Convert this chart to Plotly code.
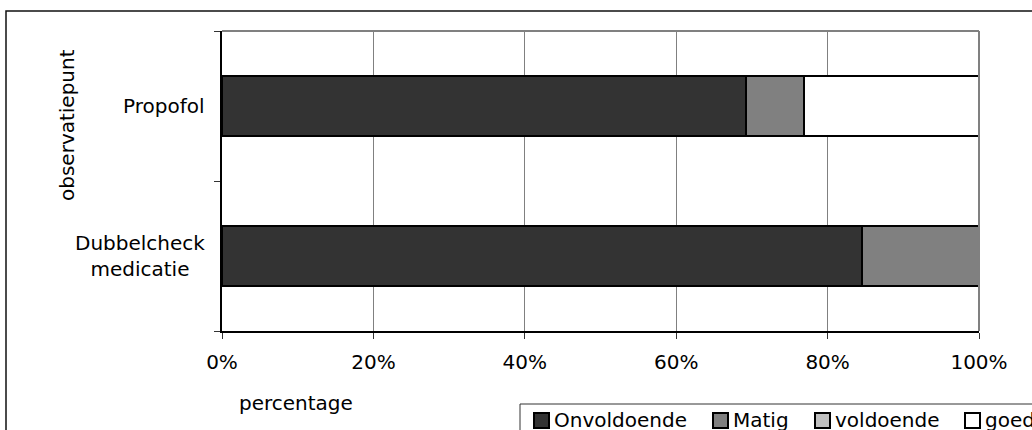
import plotly.graph_objects as go

categories = ["Dubbelcheck<br>medicatie", "Propofol"]
series_names = ["Onvoldoende", "Matig", "voldoende", "goed"]
onvoldoende = [84.6, 69.2]
matig = [15.4, 7.7]
voldoende = [0.0, 0.0]
goed = [0.0, 23.1]
series_values = [onvoldoende, matig, voldoende, goed]
colors = ["#333333", "#808080", "#C0C0C0", "#FFFFFF"]
x_ticks = [0, 20, 40, 60, 80, 100]
x_tick_labels = ["0%", "20%", "40%", "60%", "80%", "100%"]

FONT = "DejaVu Sans"
FS = 20

W, H = 1032, 430
L, R, T, B = 222, 979, 31, 331
PW, PH = R - L, B - T


def px(x):
    return (x - L) / PW


def py(y):
    return (B - y) / PH


fig = go.Figure()
for name, vals, col in zip(series_names, series_values, colors):
    fig.add_trace(go.Bar(
        y=list(range(len(categories))), x=vals, name=name, orientation="h",
        marker=dict(color=col, line=dict(color="#000000", width=2)),
        width=0.4, showlegend=False,
    ))

shapes = [
    dict(type="line", xref="paper", yref="paper", x0=0, x1=1, y0=1, y1=1,
         line=dict(color="#808080", width=2)),
    dict(type="line", xref="paper", yref="paper", x0=1, x1=1, y0=0, y1=1,
         line=dict(color="#808080", width=2)),
    dict(type="rect", xref="paper", yref="paper", x0=px(6), x1=px(1045),
         y0=py(11), y1=py(445), line=dict(color="#111111", width=1.5),
         fillcolor="rgba(0,0,0,0)", layer="below"),
    dict(type="rect", xref="paper", yref="paper", x0=px(520), x1=px(1045),
         y0=py(404), y1=py(445), line=dict(color="#333333", width=1),
         fillcolor="rgba(0,0,0,0)"),
]

annotations = []
for i, c in enumerate(categories):
    annotations.append(dict(
        text=c, xref="paper", yref="y", x=px(207), y=i, xanchor="right",
        yanchor="middle", align="center", showarrow=False,
        font=dict(family=FONT, size=FS, color="#000000")))
annotations.append(dict(
    text="observatiepunt", xref="paper", yref="paper", x=px(67), y=py(125),
    xanchor="center", yanchor="middle", textangle=-90, showarrow=False,
    font=dict(family=FONT, size=FS, color="#000000")))
annotations.append(dict(
    text="percentage", xref="paper", yref="paper", x=px(237), y=py(403),
    xanchor="left", yanchor="middle", showarrow=False,
    font=dict(family=FONT, size=FS, color="#000000")))

leg_sq_x = [534, 713, 815, 965]
for name, col, sx in zip(series_names, colors, leg_sq_x):
    shapes.append(dict(type="rect", xref="paper", yref="paper",
                       x0=px(sx), x1=px(sx + 15), y0=py(413), y1=py(428),
                       fillcolor=col, line=dict(color="#000000", width=2)))
    annotations.append(dict(
        text=name, xref="paper", yref="paper", x=px(sx + 18), y=py(420),
        xanchor="left", yanchor="middle", showarrow=False,
        font=dict(family=FONT, size=FS, color="#000000")))

fig.update_layout(
    width=W, height=H,
    margin=dict(l=L, r=W - R, t=T, b=H - B, pad=0),
    plot_bgcolor="#FFFFFF", paper_bgcolor="#FFFFFF",
    barmode="stack", bargap=0.6,
    font=dict(family=FONT, size=FS, color="#000000"),
    shapes=shapes, annotations=annotations,
    xaxis=dict(range=[0, 100], tickvals=x_ticks, ticktext=x_tick_labels,
               showgrid=True, gridcolor="#808080", gridwidth=1,
               showline=True, linecolor="#000000", linewidth=2,
               ticks="outside", ticklen=6, tickcolor="#333333", tickwidth=1,
               ticklabelstandoff=6, zeroline=False,
               tickfont=dict(family=FONT, size=FS, color="#000000")),
    yaxis=dict(type="linear", range=[-0.5, 1.5], tickvals=[-0.5, 0.5, 1.5],
               showticklabels=False, showgrid=False, zeroline=False,
               showline=True, linecolor="#000000", linewidth=2,
               ticks="outside", ticklen=6, tickcolor="#333333", tickwidth=1),
)

fig.write_html(
    "out.html",
    config={"displayModeBar": False},
    post_script="document.body.style.margin='0';document.body.style.overflow='hidden';",
)
